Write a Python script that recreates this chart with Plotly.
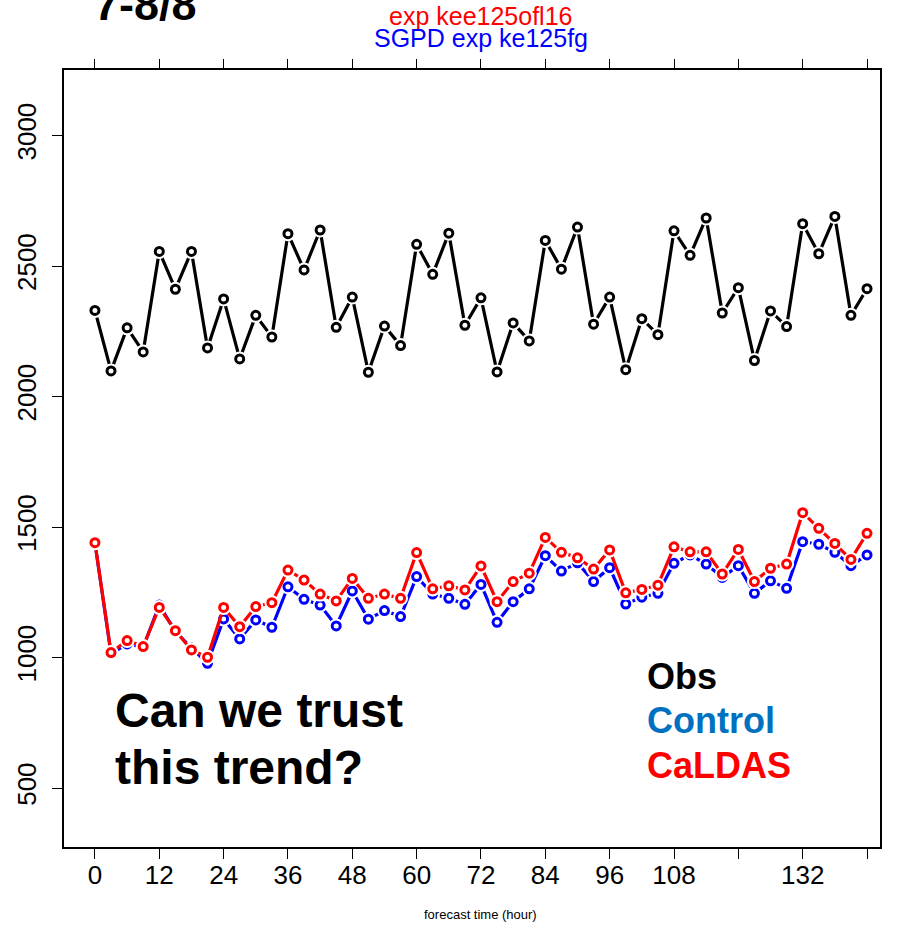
import plotly.graph_objects as go

# forecast lead time (hours)
hours = [0, 3, 6, 9, 12, 15, 18, 21, 24, 27, 30, 33, 36, 39, 42, 45, 48,
         51, 54, 57, 60, 63, 66, 69, 72, 75, 78, 81, 84, 87, 90, 93, 96,
         99, 102, 105, 108, 111, 114, 117, 120, 123, 126, 129, 132, 135,
         138, 141, 144]

obs = [2330, 2098, 2263, 2171, 2556, 2411, 2556, 2186, 2374, 2144, 2311,
       2228, 2624, 2485, 2638, 2265, 2381, 2093, 2270, 2195, 2583, 2468,
       2626, 2273, 2378, 2094, 2282, 2213, 2598, 2488, 2649, 2277, 2381,
       2103, 2298, 2237, 2635, 2541, 2684, 2320, 2417, 2138, 2328, 2268,
       2662, 2547, 2690, 2311, 2413]

control = [1440, 1014, 1052, 1040, 1201, 1100, 1036, 978, 1148, 1071, 1144,
           1116, 1271, 1223, 1201, 1121, 1255, 1147, 1180, 1157, 1310, 1243,
           1227, 1204, 1280, 1135, 1214, 1263, 1390, 1331, 1363, 1291, 1344,
           1205, 1231, 1246, 1361, 1393, 1358, 1307, 1352, 1246, 1294, 1265,
           1444, 1434, 1403, 1352, 1393]

caldas = [1440, 1019, 1065, 1042, 1192, 1103, 1029, 1001, 1192, 1118, 1195,
          1210, 1335, 1297, 1243, 1217, 1303, 1227, 1243, 1227, 1402, 1263,
          1275, 1259, 1351, 1214, 1291, 1323, 1460, 1403, 1382, 1339, 1412,
          1248, 1261, 1277, 1424, 1405, 1405, 1320, 1414, 1291, 1342, 1358,
          1555, 1495, 1437, 1376, 1476]

tick_hours = [0, 12, 24, 36, 48, 60, 72, 84, 96, 108, 120, 132, 144]
tick_text = ["0", "12", "24", "36", "48", "60", "72", "84", "96", "108",
             "", "132", ""]
y_ticks = [500, 1000, 1500, 2000, 2500, 3000]

FONT = "Liberation Sans, Arial, sans-serif"
W, H = 901, 926
ML, MR, MT, MB = 62, 21, 70, 79
PW, PH = W - ML - MR, H - MT - MB


def px_x(p):
    return (p - ML) / PW


def px_y(p):
    return (H - MB - p) / PH


fig = go.Figure()

series = [(obs, "black"), (control, "#0000ff"), (caldas, "#ff0000")]
for vals, col in series:
    # connecting line
    fig.add_trace(go.Scatter(x=hours, y=vals, mode="lines",
                             line=dict(color=col, width=3.2),
                             hoverinfo="skip", showlegend=False))
    # white gap around each point (type "b" look)
    fig.add_trace(go.Scatter(x=hours, y=vals, mode="markers",
                             marker=dict(symbol="circle", size=15,
                                         color="white",
                                         line=dict(width=0)),
                             hoverinfo="skip", showlegend=False))
    # open circle point
    fig.add_trace(go.Scatter(x=hours, y=vals, mode="markers",
                             marker=dict(symbol="circle", size=8,
                                         color="white",
                                         line=dict(color=col, width=3)),
                             showlegend=False))

# top axis carrying ticks only
fig.add_trace(go.Scatter(x=[0], y=[None], xaxis="x2", showlegend=False,
                         hoverinfo="skip"))

fig.update_layout(
    width=W, height=H,
    margin=dict(l=ML, r=MR, t=MT, b=MB),
    paper_bgcolor="white", plot_bgcolor="white",
    font=dict(family=FONT, color="black"),
    xaxis=dict(range=[-5.77, 146.42], tickvals=tick_hours,
               ticktext=tick_text, ticks="outside", ticklen=10,
               tickwidth=1.2, tickcolor="black", showgrid=False,
               zeroline=False, showline=True, linecolor="black",
               linewidth=1.5, mirror=True, ticklabelstandoff=-6,
               tickfont=dict(size=26, family=FONT, color="black")),
    xaxis2=dict(range=[-5.77, 146.42], overlaying="x", side="top",
                tickvals=tick_hours, showticklabels=False,
                ticks="outside", ticklen=10, tickwidth=1.2,
                tickcolor="black", showgrid=False, zeroline=False,
                showline=False),
    yaxis=dict(range=[274, 3251], tickvals=y_ticks, ticks="outside",
               ticklen=10, tickwidth=1.2, tickcolor="black",
               tickangle=-90, showgrid=False, zeroline=False,
               showline=True, linecolor="black", linewidth=1.5,
               mirror=True, ticklabelstandoff=6,
               tickfont=dict(size=26, family=FONT, color="black")),
)

ann = []
# panel heading and experiment names
ann.append(dict(text="<b>7-8/8</b>", x=px_x(90), y=px_y(20 - 0.35 * 45),
                xanchor="left", yanchor="middle",
                font=dict(size=45, color="black", family=FONT)))
ann.append(dict(text="exp kee125ofl16", x=px_x(480), y=px_y(25 - 0.35 * 25),
                xanchor="center", yanchor="middle",
                font=dict(size=25, color="#ff0000", family=FONT)))
ann.append(dict(text="SGPD exp ke125fg", x=px_x(480),
                y=px_y(47 - 0.35 * 25), xanchor="center", yanchor="middle",
                font=dict(size=25, color="#0000ff", family=FONT)))
# question
ann.append(dict(text="<b>Can we trust</b>", x=px_x(111),
                y=px_y(727 - 0.35 * 48), xanchor="left", yanchor="middle",
                font=dict(size=48, color="black", family=FONT)))
ann.append(dict(text="<b>this trend?</b>", x=px_x(111),
                y=px_y(784 - 0.35 * 48), xanchor="left", yanchor="middle",
                font=dict(size=48, color="black", family=FONT)))
# key
for label, col, base in [("Obs", "black", 689),
                         ("Control", "#0070c0", 733),
                         ("CaLDAS", "#ff0000", 778)]:
    ann.append(dict(text="<b>%s</b>" % label, x=px_x(644),
                    y=px_y(base - 0.35 * 36), xanchor="left",
                    yanchor="middle",
                    font=dict(size=36, color=col, family=FONT)))
# x-axis title
ann.append(dict(text="forecast time (hour)", x=px_x(480), y=px_y(915),
                xanchor="center", yanchor="middle",
                font=dict(size=13, color="black", family=FONT)))

for a in ann:
    a.update(xref="paper", yref="paper", showarrow=False)
fig.update_layout(annotations=ann)

fig.write_html("out.html")
